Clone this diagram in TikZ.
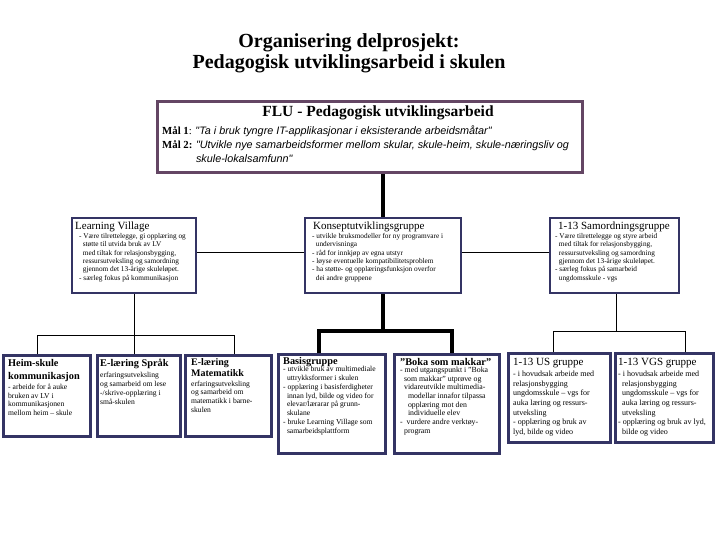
\documentclass[tikz,border=0pt]{standalone}
\usepackage{fontspec}
\setmainfont{Liberation Serif}
\newfontfamily\quotefont{Liberation Sans}
\definecolor{navy}{RGB}{52,52,100}
\definecolor{mauve}{RGB}{100,70,100}
\newcommand\myind{\hspace*{0.5em}}
\newcommand\tbfont{\fontsize{7.3}{8.4}\selectfont}
\newcommand\bbfont{\fontsize{7.6}{8.8}\selectfont}
\newcommand\qt[1]{{\quotefont\itshape #1}}
\tikzset{
  flubox/.style={draw=mauve, line width=3pt, fill=white, inner sep=0},
  topbox/.style={draw=navy, line width=2.2pt, fill=white, inner sep=0},
  botbox/.style={draw=navy, line width=3pt, fill=white, inner sep=0},
  body/.style={anchor=north west, inner sep=0, align=left},
  tophead/.style={anchor=base west, inner sep=0, font=\fontsize{11}{12}\selectfont},
  bothead/.style={anchor=base west, inner sep=0, font=\fontsize{10.3}{12}\selectfont\bfseries},
  conthin/.style={draw=black, line width=1pt, line join=miter},
  conthick/.style={draw=black, line width=3.5pt, line join=miter}
}
\begin{document}
\begin{tikzpicture}[x=1pt,y=-1pt]
\useasboundingbox (0,0) rectangle (720,540);
% title
\node[font=\fontsize{20}{21}\selectfont\bfseries, align=center] (title) at (349,53) {Organisering delprosjekt:\\Pedagogisk utviklingsarbeid i skulen};
% boxes
\node[flubox, minimum width=425pt, minimum height=71pt] (flu) at (369.5,137.5) {};
\node[topbox, minimum width=124pt, minimum height=75pt] (lv) at (134,255.5) {};
\node[topbox, minimum width=156pt, minimum height=75pt] (kon) at (383,255.5) {};
\node[topbox, minimum width=129pt, minimum height=75pt] (sam) at (614.5,255.5) {};
\node[botbox, minimum width=87pt, minimum height=81pt] (heim) at (46.5,395.5) {};
\node[botbox, minimum width=83pt, minimum height=81pt] (spr) at (138.5,395.5) {};
\node[botbox, minimum width=86pt, minimum height=81pt] (mat) at (228,395.5) {};
\node[botbox, minimum width=107pt, minimum height=99pt] (bas) at (331.5,403.5) {};
\node[botbox, minimum width=105pt, minimum height=99pt] (boka) at (446.5,403.5) {};
\node[botbox, minimum width=102pt, minimum height=89pt] (us) at (559,397.5) {};
\node[botbox, minimum width=98pt, minimum height=89pt] (vgs) at (664,397.5) {};
% connectors
\draw[conthick] (flu.south -| kon.north) -- (kon.north);
\draw[conthin] ([yshift=3.5pt]lv.east) -- ([yshift=3.5pt]kon.west);
\draw[conthin] ([yshift=3.5pt]kon.east) -- ([yshift=3.5pt]sam.west);
\coordinate (lvL) at (37,335);
\coordinate (lvM) at (134,335);
\coordinate (lvR) at (234,335);
\draw[conthin] (lv.south) -- (lvM);
\draw[conthin] (lvL |- heim.north) -- (lvL) -- (lvR) -- (lvR |- mat.north);
\draw[conthin] (lvM) -- (lvM |- spr.north);
\coordinate (kL) at (319,331);
\coordinate (kM) at (383,331);
\coordinate (kR) at (452,331);
\draw[conthick] (kon.south) -- (kM);
\draw[conthick] (kL |- bas.north) -- (kL) -- (kR) -- (kR |- boka.north);
\coordinate (sL) at (553,331);
\coordinate (sM) at (616,331);
\coordinate (sR) at (685,331);
\draw[conthin] (sam.south -| sM) -- (sM);
\draw[conthin] (sL |- us.north) -- (sL) -- (sR) -- (sR |- vgs.north);
% FLU text
\node[font=\fontsize{15.5}{16}\selectfont\bfseries] (flut) at (378,113) {FLU - Pedagogisk utviklingsarbeid};
\node[body, font=\fontsize{10.8}{14}\selectfont] (maal) at (162,126) {\textbf{Mål 1}: \qt{"Ta i bruk tyngre IT-applikasjonar i eksisterande arbeidsmåtar"}\\
\textbf{Mål 2:} \qt{"Utvikle nye samarbeidsformer mellom skular, skule-heim, skule-næringsliv og}\\
\hphantom{\textbf{Mål 2:} }\qt{skule-lokalsamfunn"}};
% top box texts
\node[tophead] (lvh) at (75,229.5) {Learning Village};
\node[body, font=\tbfont] (lvb) at (79,233) {- Være tilrettelegge, gi opplæring og\\
\myind støtte til utvida bruk av LV\\
\myind med tiltak for relasjonsbygging,\\
\myind ressursutveksling og samordning\\
\myind gjennom det 13-årige skuleløpet.\\
- særleg fokus på kommunikasjon};
\node[tophead] (konh) at (313,229.5) {Konseptutviklingsgruppe};
\node[body, font=\tbfont] (konb) at (312,233) {- utvikle bruksmodeller for ny programvare i\\
\myind undervisninga\\
- råd for innkjøp av egna utstyr\\
- løyse eventuelle kompatibilitetsproblem\\
- ha støtte- og opplæringsfunksjon overfor\\
\myind dei andre gruppene};
\node[tophead] (samh) at (558,229.5) {1-13 Samordningsgruppe};
\node[body, font=\tbfont] (samb) at (555,233) {- Være tilrettelegge og styre arbeid\\
\myind med tiltak for relasjonsbygging,\\
\myind ressursutveksling og samordning\\
\myind gjennom det 13-årige skuleløpet.\\
- særleg fokus på samarbeid\\
\myind ungdomsskule - vgs};
% bottom texts
\node[body, font=\fontsize{10.3}{13}\selectfont\bfseries] (heimh) at (8,359) {Heim-skule\\kommunikasjon};
\node[body, font=\bbfont] (heimb) at (8,383.5) {- arbeide for å auke\\bruken av LV i\\kommunikasjonen\\mellom heim – skule};
\node[bothead] (sprh) at (100,366) {E-læring Språk};
\node[body, font=\bbfont] (sprb) at (100,372.2) {erfaringsutveksling\\og samarbeid om lese\\-/skrive-opplæring i\\små-skulen};
\node[body, font=\fontsize{10}{11}\selectfont\bfseries] (math) at (191,358) {E-læring\\Matematikk};
\node[body, font=\bbfont] (matb) at (191,380.5) {erfaringsutveksling\\og samarbeid om\\matematikk i barne-\\skulen};
\node[bothead] (bash) at (283,364) {Basisgruppe};
\node[body, font=\bbfont] (basb) at (283,366.2) {- utvikle bruk av multimediale\\
\myind uttrykksformer i skulen\\
- opplæring i basisferdigheter\\
\myind innan lyd, bilde og video for\\
\myind elevar/lærarar på grunn-\\
\myind skulane\\
- bruke Learning Village som\\
\myind samarbeidsplattform};
\node[bothead] (bokah) at (400,365) {"Boka som makkar"};
\node[body, font=\fontsize{7.8}{8.7}\selectfont] (bokab) at (400,366.7) {- med utgangspunkt i "Boka\\
\myind som makkar" utprøve og\\
\myind vidareutvikle multimedia-\\
\myind\myind modellar innafor tilpassa\\
\myind\myind opplæring mot den\\
\myind\myind individuelle elev\\
- \ vurdere andre verktøy-\\
\myind program};
\node[tophead] (ush) at (513,365) {1-13 US gruppe};
\node[body, font=\fontsize{8}{9.6}\selectfont] (usb) at (513,371) {- i hovudsak arbeide med\\
relasjonsbygging\\
ungdomsskule – vgs for\\
auka læring og ressurs-\\
utveksling\\
- opplæring og bruk av\\
lyd, bilde og video};
\node[tophead] (vgsh) at (618,365) {1-13 VGS gruppe};
\node[body, font=\fontsize{8}{9.6}\selectfont] (vgsb) at (618,371) {- i hovudsak arbeide med\\
\myind relasjonsbygging\\
\myind ungdomsskule – vgs for\\
\myind auka læring og ressurs-\\
\myind utveksling\\
- opplæring og bruk av lyd,\\
\myind bilde og video};
\end{tikzpicture}
\end{document}
